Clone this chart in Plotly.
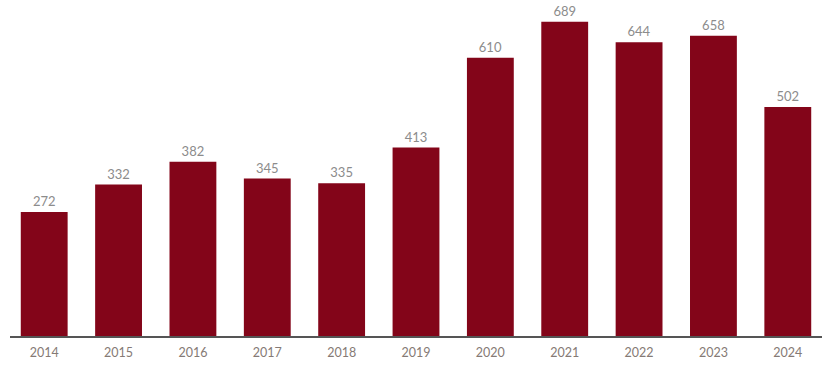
import plotly.graph_objects as go

years = ["2014", "2015", "2016", "2017", "2018", "2019", "2020", "2021", "2022", "2023", "2024"]
values = [272, 332, 382, 345, 335, 413, 610, 689, 644, 658, 502]

fig = go.Figure(go.Bar(
    x=years, y=values,
    marker=dict(color="#830519", line=dict(width=0)),
    text=[str(v) for v in values],
    textposition="outside",
    textfont=dict(family="Lato, Open Sans, sans-serif", size=13, color="#8c8c8c"),
    cliponaxis=False,
    hoverinfo="skip",
))

fig.update_layout(
    width=831, height=368,
    margin=dict(l=10, r=9, t=0, b=32),
    plot_bgcolor="white", paper_bgcolor="white",
    bargap=0.37,
    showlegend=False,
)
fig.update_xaxes(
    type="category", range=[-0.46, 10.46],
    showline=True, linecolor="#555555", linewidth=1.5,
    ticks="", showgrid=False, ticklabelstandoff=4,
    tickfont=dict(family="Lato, Open Sans, sans-serif", size=12.5, color="#857a75"),
)
fig.update_yaxes(
    range=[0, 736.5], visible=False, showgrid=False, zeroline=False,
)

fig.write_html(
    "out.html",
    config={"displayModeBar": False, "staticPlot": True},
    post_script="document.body.style.margin='0px';document.body.style.overflow='hidden';",
)
